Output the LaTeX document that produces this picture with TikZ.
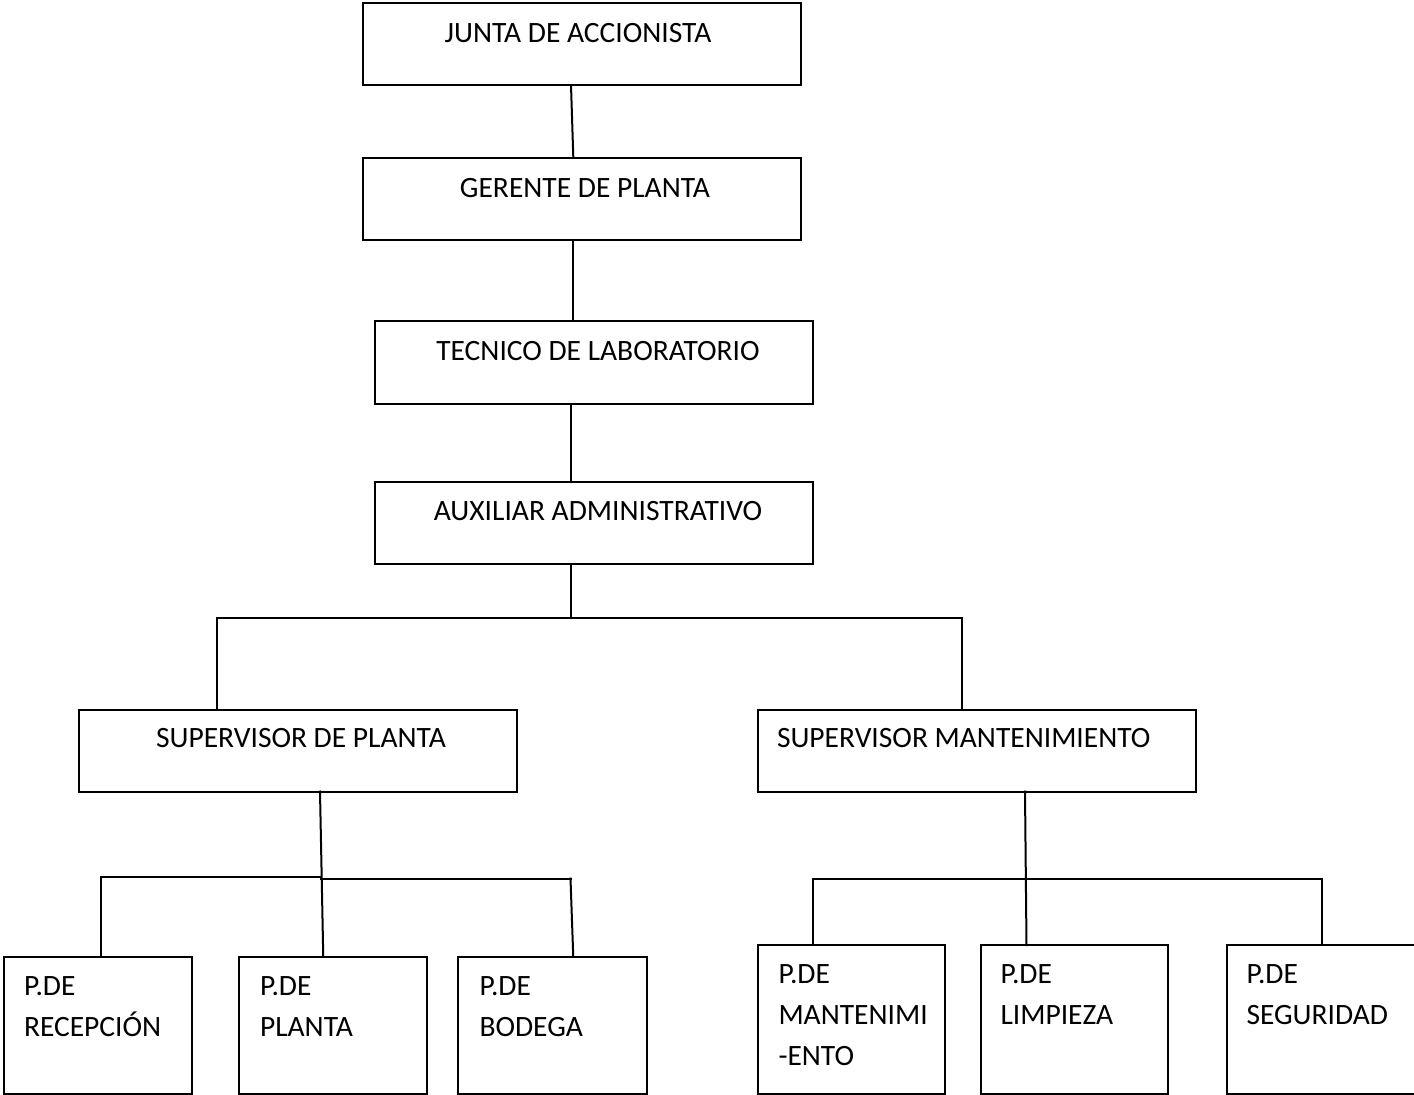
\documentclass[tikz,border=0pt]{standalone}
\usepackage{fontspec}
\setmainfont{Carlito}
\usetikzlibrary{calc}
\begin{document}
\begin{tikzpicture}[x=1pt,y=-1pt,line width=2pt,
  box/.style={draw=black,rectangle,inner sep=0pt,outer sep=0pt,anchor=north west},
  txt/.style={inner sep=0pt,outer sep=0pt,text=black,font=\fontsize{29.5}{41.2}\selectfont},
  ctxt/.style={txt,anchor=base},
  ltxt/.style={txt,anchor=base west},
  mtxt/.style={txt,anchor=base west,text width=180pt,align=left},
  conn/.style={draw=black,line width=2pt,line cap=rect}]
\useasboundingbox[fill=white] (0,0) rectangle (1414,1095);
% top chain
\node[box,minimum width=438pt,minimum height=82pt] (junta) at (363,3) {};
\node[box,minimum width=438pt,minimum height=82pt] (gerente) at (363,157.5) {};
\node[box,minimum width=438pt,minimum height=82.5pt] (tecnico) at (375,321) {};
\node[box,minimum width=438pt,minimum height=82pt] (aux) at (375,481.5) {};
\node[box,minimum width=438pt,minimum height=82pt] (supp) at (79,709.5) {};
\node[box,minimum width=438pt,minimum height=82pt] (supm) at (758,709.5) {};
% bottom boxes
\node[box,minimum width=187.5pt,minimum height=137pt] (recep) at (4,956.5) {};
\node[box,minimum width=187.5pt,minimum height=137pt] (planta) at (239,956.5) {};
\node[box,minimum width=188.5pt,minimum height=137pt] (bodega) at (458,956.5) {};
\node[box,minimum width=187.5pt,minimum height=148.5pt] (mant) at (757.5,945) {};
\node[box,minimum width=187pt,minimum height=148.5pt] (limp) at (980.5,945) {};
\node[box,minimum width=193pt,minimum height=148.5pt] (seg) at (1227,945) {};
% texts
\node[ctxt] (junta-t) at ($(junta.north)+(-4,39)$) {JUNTA DE ACCIONISTA};
\node[ctxt] (gerente-t) at ($(gerente.north)+(3,39.5)$) {GERENTE DE PLANTA};
\node[ctxt] (tecnico-t) at ($(tecnico.north)+(4,39)$) {TECNICO DE LABORATORIO};
\node[ctxt] (aux-t) at ($(aux.north)+(4,38.5)$) {AUXILIAR ADMINISTRATIVO};
\node[ctxt] (supp-t) at ($(supp.north)+(3,38)$) {SUPERVISOR DE PLANTA};
\node[ltxt] (supm-t) at ($(supm.north west)+(19,38)$) {SUPERVISOR MANTENIMIENTO};
\node[mtxt] (recep-t) at ($(recep.north west)+(20,38.5)$) {P.DE\\RECEPCIÓN};
\node[mtxt] (planta-t) at ($(planta.north west)+(21,38.5)$) {P.DE\\PLANTA};
\node[mtxt] (bodega-t) at ($(bodega.north west)+(21.5,38.5)$) {P.DE\\BODEGA};
\node[mtxt] (mant-t) at ($(mant.north west)+(21,38.3)$) {P.DE\\MANTENIMI\\-ENTO};
\node[mtxt] (limp-t) at ($(limp.north west)+(20,38.3)$) {P.DE\\LIMPIEZA};
\node[mtxt] (seg-t) at ($(seg.north west)+(19.5,38.3)$) {P.DE\\SEGURIDAD};
% connectors of the chain
\draw[conn] ($(junta.south)+(-11,0)$) -- ($(gerente.north)+(-8.7,0)$);
\draw[conn] ($(gerente.south)+(-8.7,0)$) -- ($(tecnico.north)+(-20.7,0)$);
\draw[conn] ($(tecnico.south)+(-23,0)$) -- ($(aux.north)+(-23,0)$);
\coordinate (b1) at (571,618);
\coordinate (bl) at (217,618);
\coordinate (br) at (962,618);
\draw[conn] ($(aux.south)+(-23,0)$) -- (b1);
\draw[conn] (bl) -- (br);
\draw[conn] (bl) -- (bl |- supp.north);
\draw[conn] (br) -- (br |- supm.north);
% supervisor de planta group
\coordinate (p1) at (321,876.5);
\coordinate (pl) at (100.5,876.5);
\coordinate (pr) at (570.5,878.5);
\coordinate (p2) at (321,878.5);
\draw[conn] ($(supp.south)+(22,0)$) -- ($(planta.north)+(-9.5,0)$);
\draw[conn] (pl) -- (p1);
\draw[conn] (p2) -- (pr);
\draw[conn] (pl) -- (pl |- recep.north);
\draw[conn] (pr) -- ($(bodega.north)+(21,0)$);
% supervisor mantenimiento group
\coordinate (ml) at (813.3,879.3);
\coordinate (mr) at (1321.5,879.3);
\draw[conn] ($(supm.south)+(48,0)$) -- ($(limp.north)+(-47.5,0)$);
\draw[conn] (ml) -- (mr);
\draw[conn] (ml) -- (ml |- mant.north);
\draw[conn] (mr) -- (mr |- seg.north);
\end{tikzpicture}
\end{document}
